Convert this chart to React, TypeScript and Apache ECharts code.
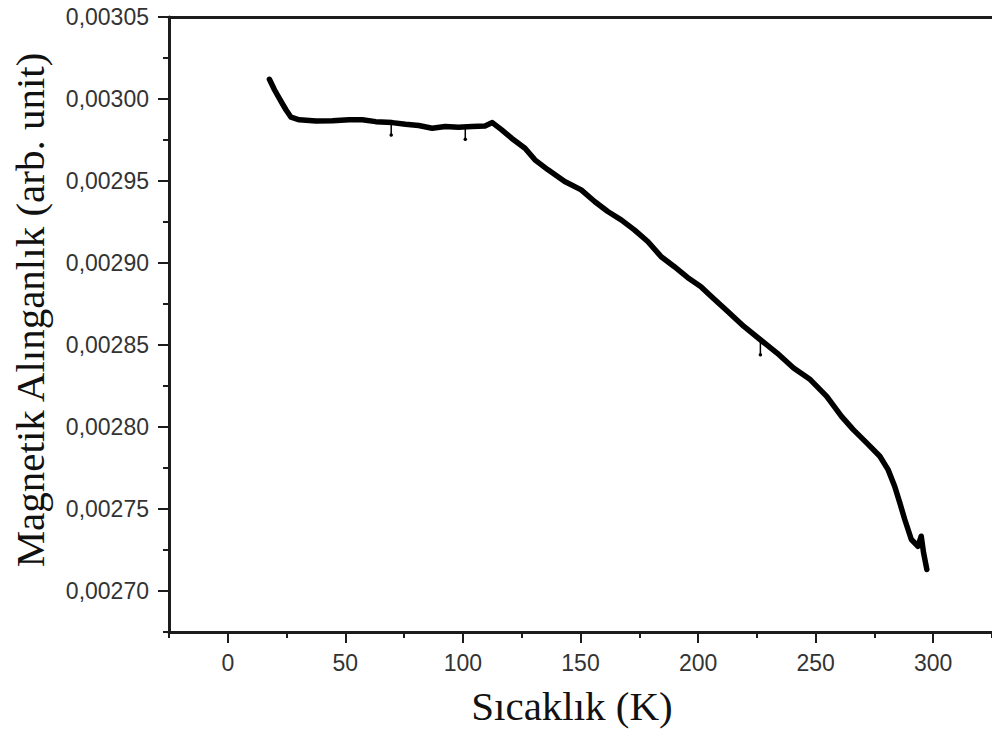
import React, { useEffect, useRef } from "react";
import * as echarts from "echarts";

// Temperature (K) and magnetic susceptibility (arb. unit)
const T_K = [
  17.7, 19.9, 22.7, 24.8, 26.9, 30.4, 37.5, 44.5, 51.6, 57.2, 62.9, 69.9, 75.6, 81.2, 86.9,
  92.5, 98.1, 103.8, 109.4, 112.5, 116.5, 120.7, 126.4, 130.6, 136.2, 143.3, 150.3, 156.0,
  161.6, 167.3, 172.9, 178.6, 184.2, 189.8, 195.5, 201.1, 205.3, 209.6, 212.4, 219.5, 226.5,
  233.6, 240.6, 247.7, 254.7, 261.0, 266.0, 271.7, 277.3, 280.8, 283.6, 285.8, 287.9, 290.7,
  293.5, 294.9, 295.9, 297.3,
];
const CHI = [
  0.0030120, 0.0030055, 0.0029984, 0.0029933, 0.0029889, 0.0029873, 0.0029866, 0.0029868,
  0.0029873, 0.0029873, 0.0029862, 0.0029856, 0.0029846, 0.0029838, 0.0029822, 0.0029832,
  0.0029828, 0.0029832, 0.0029836, 0.0029856, 0.0029812, 0.0029761, 0.0029700, 0.0029629,
  0.0029568, 0.0029497, 0.0029446, 0.0029375, 0.0029314, 0.0029263, 0.0029202, 0.0029131,
  0.0029040, 0.0028979, 0.0028912, 0.0028857, 0.0028800, 0.0028744, 0.0028707, 0.0028613,
  0.0028532, 0.0028451, 0.0028360, 0.0028289, 0.0028187, 0.0028065, 0.0027984, 0.0027903,
  0.0027822, 0.0027740, 0.0027639, 0.0027537, 0.0027436, 0.0027314, 0.0027273, 0.0027334,
  0.0027233, 0.0027131,
];

// Isolated readings that drop below the main curve
const OUTLIER_T = [69.5, 101.0, 226.5];
const OUTLIER_BASE = [0.0029856, 0.0029832, 0.0028532];
const OUTLIER_TIP = [0.0029781, 0.0029755, 0.0028441];

const X_TICKS = [0, 50, 100, 150, 200, 250, 300];
const X_MINOR = [-25, 25, 75, 125, 175, 225, 275, 325];
const Y_TICKS = [0.0027, 0.00275, 0.0028, 0.00285, 0.0029, 0.00295, 0.003, 0.00305];
const Y_MINOR = [0.002675, 0.002725, 0.002775, 0.002825, 0.002875, 0.002925, 0.002975, 0.003025];

const X_MIN = -25;
const X_MAX = 325;
const Y_MIN = 0.002675;
const Y_MAX = 0.00305;

const AXIS_COLOR = "#1c1c1c";
const LABEL_FONT = '"Liberation Sans", Arial, sans-serif';
const TITLE_FONT = '"Liberation Serif", "Times New Roman", serif';

export default function App() {
  const ref = useRef<HTMLDivElement>(null);

  useEffect(() => {
    if (!ref.current) return;
    const chart = echarts.init(ref.current, undefined, { renderer: "svg" });

    const lineAxis = { show: true, onZero: false, lineStyle: { color: AXIS_COLOR, width: 3 } };
    const noLine = { show: false, onZero: false };
    const labelStyle = { color: "#333", fontSize: 23, fontFamily: LABEL_FONT };

    const spikes = OUTLIER_T.map((t, i) => ({
      type: "line",
      xAxisIndex: 0,
      yAxisIndex: 0,
      data: [
        [t, OUTLIER_BASE[i]],
        [t, OUTLIER_TIP[i]],
      ],
      symbol: "circle",
      symbolSize: 3.5,
      showSymbol: true,
      itemStyle: { color: "#000" },
      lineStyle: { color: "#000", width: 1.5 },
      silent: true,
      z: 2,
    }));

    chart.setOption({
      animation: false,
      backgroundColor: "#fff",
      grid: { left: 169, right: -3, top: 17, bottom: 103, containLabel: false },
      xAxis: [
        {
          type: "value",
          min: X_MIN,
          max: X_MAX,
          position: "bottom",
          axisLine: lineAxis,
          axisTick: { show: true, length: 11, customValues: X_TICKS, lineStyle: { color: AXIS_COLOR, width: 2 } },
          axisLabel: { ...labelStyle, margin: 19, customValues: X_TICKS, formatter: (v: number) => String(v) },
          splitLine: { show: false },
        },
        {
          type: "value",
          min: X_MIN,
          max: X_MAX,
          position: "bottom",
          axisLine: noLine,
          axisTick: { show: true, length: 6, customValues: X_MINOR, lineStyle: { color: AXIS_COLOR, width: 2 } },
          axisLabel: { show: false },
          splitLine: { show: false },
        },
        {
          type: "value",
          min: X_MIN,
          max: X_MAX,
          position: "top",
          axisLine: lineAxis,
          axisTick: { show: false },
          axisLabel: { show: false },
          splitLine: { show: false },
        },
      ],
      yAxis: [
        {
          type: "value",
          min: Y_MIN,
          max: Y_MAX,
          position: "left",
          axisLine: lineAxis,
          axisTick: { show: true, length: 11, customValues: Y_TICKS, lineStyle: { color: AXIS_COLOR, width: 2 } },
          axisLabel: {
            ...labelStyle,
            margin: 20,
            customValues: Y_TICKS,
            formatter: (v: number) => v.toFixed(5).replace(".", ","),
          },
          splitLine: { show: false },
        },
        {
          type: "value",
          min: Y_MIN,
          max: Y_MAX,
          position: "left",
          axisLine: noLine,
          axisTick: { show: true, length: 6, customValues: Y_MINOR, lineStyle: { color: AXIS_COLOR, width: 2 } },
          axisLabel: { show: false },
          splitLine: { show: false },
        },
      ],
      series: [
        ...spikes,
        {
          type: "line",
          xAxisIndex: 0,
          yAxisIndex: 0,
          data: T_K.map((t, i) => [t, CHI[i]]),
          showSymbol: false,
          lineStyle: { color: "#000", width: 5.5, cap: "round", join: "round" },
          silent: true,
          z: 3,
        },
      ],
      graphic: [
        {
          type: "text",
          x: 572,
          y: 706,
          silent: true,
          style: {
            text: "Sıcaklık (K)",
            fontSize: 41,
            fontFamily: TITLE_FONT,
            fill: "#111",
            align: "center",
            verticalAlign: "middle",
          },
        },
        {
          type: "text",
          x: 30,
          y: 310,
          rotation: Math.PI / 2,
          silent: true,
          style: {
            text: "Magnetik Alınganlık (arb. unit)",
            fontSize: 41,
            fontFamily: TITLE_FONT,
            fill: "#111",
            align: "center",
            verticalAlign: "middle",
          },
        },
      ],
    });

    return () => chart.dispose();
  }, []);

  return (
    <div
      ref={ref}
      style={{ position: "fixed", left: 0, top: 0, width: 992, height: 735, background: "#fff" }}
    />
  );
}
